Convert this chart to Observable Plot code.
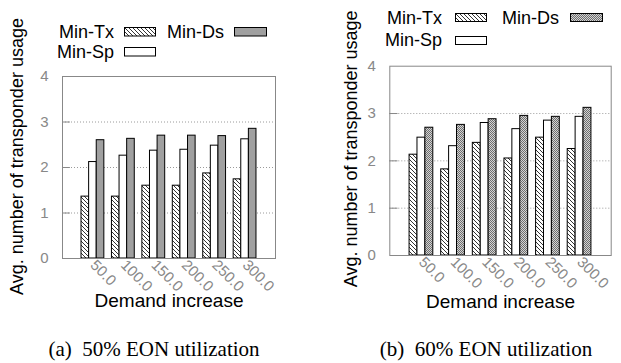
<!DOCTYPE html>
<html><head><meta charset="utf-8">
<script src="https://cdn.jsdelivr.net/npm/d3@7"></script>
<script src="https://cdn.jsdelivr.net/npm/@observablehq/plot@0.6"></script>
<style>
body{margin:0;background:#fff;}
#root{position:relative;width:621px;height:363px;overflow:hidden;font-family:"Liberation Sans",Arial,sans-serif;}
.chart{position:absolute;top:0;}
.lt{position:absolute;font-size:18px;line-height:1;white-space:nowrap;transform:translate(-100%,-50%);color:#000;}
.sw{position:absolute;overflow:visible;}
.cap{position:absolute;font-family:"Liberation Serif","Times New Roman",serif;font-size:21px;line-height:1;white-space:pre;transform:translate(-50%,-50%);color:#000;}
</style></head><body>
<svg width="0" height="0" style="position:absolute">
<defs>
<pattern id="hatch" patternUnits="userSpaceOnUse" width="4" height="4">
<rect width="4" height="4" fill="#fff"/>
<path d="M-1,-1L5,5M3,-1L5,1M-1,3L1,5" stroke="#000" stroke-width="0.8"/>
</pattern>
<pattern id="dots" patternUnits="userSpaceOnUse" width="2" height="2">
<rect width="2" height="2" fill="#d4d4d4"/>
<rect width="1" height="1" fill="#6e6e6e"/>
<rect x="1" y="1" width="1" height="1" fill="#6e6e6e"/>
</pattern>
</defs></svg>
<div id="root"></div>
<script>
// ---- data ----
const demand = ["50.0", "100.0", "150.0", "200.0", "250.0", "300.0"];
const series = ["Min-Tx", "Min-Sp", "Min-Ds"];
const yTicks = [0, 1, 2, 3, 4];
const gridTicks = [1, 2, 3];
const yLabel = "Avg. number of transponder usage";
const xLabel = "Demand increase";
const captions = ["(a)  50% EON utilization", "(b)  60% EON utilization"];

// (a) 50% EON utilization
const tx50 = [1.36, 1.36, 1.60, 1.60, 1.87, 1.74];
const sp50 = [2.12, 2.26, 2.37, 2.39, 2.48, 2.62];
const ds50 = [2.60, 2.63, 2.70, 2.70, 2.69, 2.85];
// (b) 60% EON utilization
const tx60 = [2.13, 1.82, 2.38, 2.05, 2.49, 2.25];
const sp60 = [2.49, 2.31, 2.80, 2.67, 2.85, 2.93];
const ds60 = [2.70, 2.76, 2.88, 2.95, 2.93, 3.12];

const root = document.getElementById("root");

function chart(cfg) {
  const vals = [cfg.tx, cfg.sp, cfg.ds];
  const fills = ["url(#hatch)", "#fff", cfg.dsFill];
  const rows = [];
  demand.forEach((d, g) => series.forEach((s, k) => rows.push({g, k, s, v: vals[k][g]})));
  const bw = 0.25;
  const svg = Plot.plot({
    width: cfg.width, height: 363,
    marginLeft: cfg.mL, marginRight: cfg.mR, marginTop: cfg.mT, marginBottom: cfg.mB,
    style: {fontFamily: "Liberation Sans, Arial, sans-serif", fontSize: "15px", background: "transparent", overflow: "visible"},
    x: {domain: [0, demand.length + 1], axis: null},
    y: {domain: [0, 4], axis: null},
    marks: [
      Plot.ruleY(gridTicks, {stroke: "#9a9a9a", strokeDasharray: "1,2"}),
      Plot.ruleY(gridTicks, {x1: 0, x2: 0.26, stroke: "#888"}),
      Plot.rect(rows, {
        x1: d => d.g + 1 + (d.k - 1.5) * bw,
        x2: d => d.g + 1 + (d.k - 0.5) * bw,
        y1: 0, y2: "v",
        fill: d => fills[d.k], stroke: "#000", strokeWidth: 1
      }),
      Plot.frame({stroke: "#888"}),
      Plot.axisY({ticks: yTicks, tickFormat: d => String(d), label: null, tickSize: 0, tickPadding: 14, fill: "#888", fontSize: 15}),
      Plot.axisX({ticks: demand.map((d, i) => i + 1), tickFormat: i => demand[i - 1], label: null, tickRotate: 45, tickSize: 0, tickPadding: 4, fill: "#888", fontSize: 15}),
      Plot.text([yLabel], {text: d => d, frameAnchor: "left", textAnchor: "middle", rotate: -90, dx: cfg.yDx, dy: cfg.yDy, fontSize: 18, fill: "#000"}),
      Plot.text([xLabel], {text: d => d, frameAnchor: "bottom", dy: cfg.xDy, fontSize: 19, fill: "#000"})
    ]
  });
  svg.classList.add("chart");
  svg.style.left = cfg.left + "px";
  root.appendChild(svg);

  // legend (gnuplot-style key: right-aligned label, then swatch)
  const fillsLegend = {"Min-Tx": "url(#hatch)", "Min-Sp": "#fff", "Min-Ds": cfg.dsFill};
  cfg.legend.forEach(e => {
    const t = document.createElement("div");
    t.className = "lt";
    t.textContent = e.name;
    t.style.left = e.tx + "px";
    t.style.top = e.cy + "px";
    root.appendChild(t);
    const ns = "http://www.w3.org/2000/svg";
    const s = document.createElementNS(ns, "svg");
    s.setAttribute("class", "sw");
    s.setAttribute("width", e.w + 1);
    s.setAttribute("height", e.h + 1);
    s.style.left = (e.sx - 0.5) + "px";
    s.style.top = (e.cy - e.h / 2 - 0.5) + "px";
    const r = document.createElementNS(ns, "rect");
    r.setAttribute("x", 0.5); r.setAttribute("y", 0.5);
    r.setAttribute("width", e.w); r.setAttribute("height", e.h);
    r.setAttribute("fill", fillsLegend[e.name]);
    r.setAttribute("stroke", "#000");
    s.appendChild(r);
    root.appendChild(s);
  });

  const c = document.createElement("div");
  c.className = "cap";
  c.textContent = cfg.caption;
  c.style.left = cfg.capX + "px";
  c.style.top = cfg.capY + "px";
  root.appendChild(c);
}

chart({
  tx: tx50, sp: sp50, ds: ds50, dsFill: "#a0a0a0",
  left: 0, width: 310, mL: 62, mR: 35, mT: 76, mB: 105,
  yDx: -45.5, yDy: -11, xDy: 48,
  legend: [
    {name: "Min-Tx", tx: 114, cy: 31.5, sx: 124, w: 31, h: 8.5},
    {name: "Min-Ds", tx: 224, cy: 31.5, sx: 234, w: 32, h: 8.5},
    {name: "Min-Sp", tx: 114, cy: 51.5, sx: 124, w: 31, h: 8.5}
  ],
  caption: captions[0], capX: 154, capY: 348.5
});

chart({
  tx: tx60, sp: sp60, ds: ds60, dsFill: "url(#dots)",
  left: 310, width: 311, mL: 79.3, mR: 10.3, mT: 65.7, mB: 108,
  yDx: -39, yDy: -12, xDy: 52,
  legend: [
    {name: "Min-Tx", tx: 442, cy: 17.5, sx: 455.7, w: 31, h: 8},
    {name: "Min-Ds", tx: 559, cy: 17.5, sx: 570, w: 32, h: 8},
    {name: "Min-Sp", tx: 442, cy: 40, sx: 455.7, w: 31, h: 8}
  ],
  caption: captions[1], capX: 486, capY: 348.5
});
</script>
</body></html>
